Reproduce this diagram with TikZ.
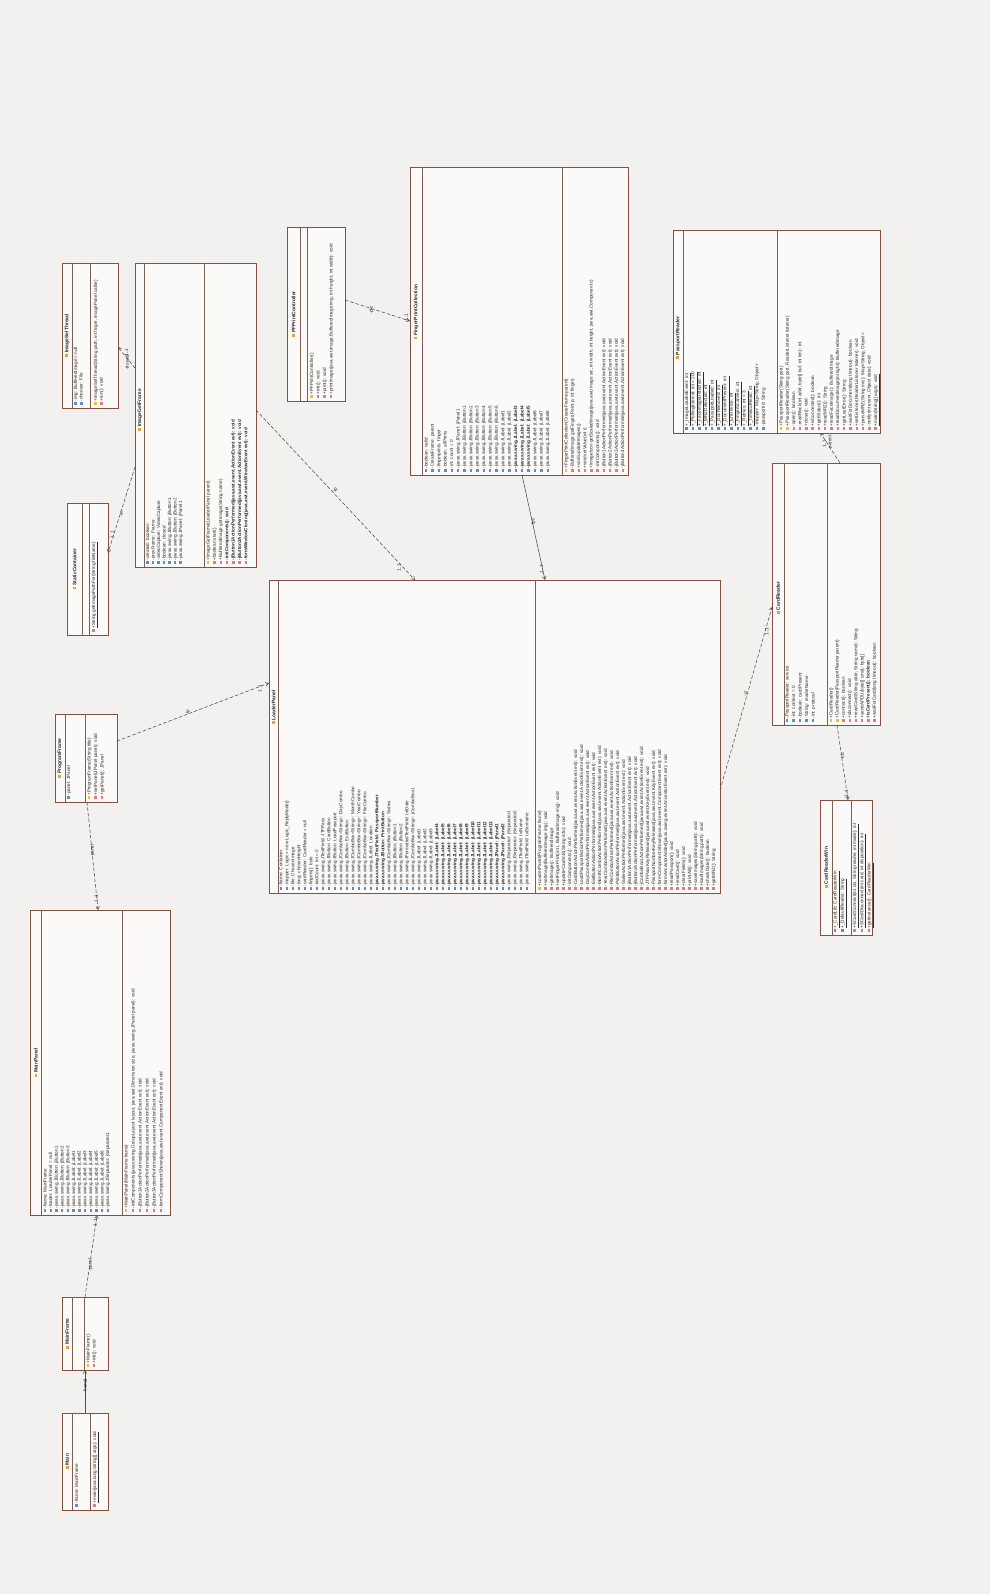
\documentclass[tikz,border=0pt]{standalone}
\usepackage{fontspec}
\setmainfont{Liberation Sans}
\usetikzlibrary{arrows.meta}
\definecolor{bg}{HTML}{F2F1EF}
\definecolor{boxfill}{HTML}{FBFAF8}
\definecolor{bord}{HTML}{84503F}
\definecolor{divc}{HTML}{7D5E55}
\definecolor{txt}{HTML}{2A2A2A}
\definecolor{icA}{HTML}{5B8FC9}
\definecolor{icB}{HTML}{E3A23B}
\definecolor{icM}{HTML}{E07B86}
\definecolor{icC}{HTML}{E6C13E}
\definecolor{conn}{HTML}{4E4E4E}
\newcommand{\ia}{\textcolor{icA}{\rule[0.2pt]{2.4pt}{2.4pt}}\hspace{1pt}}
\newcommand{\im}{\textcolor{icM}{\rule[0.2pt]{2.4pt}{2.4pt}}\hspace{1pt}}
\newcommand{\ic}{\textcolor{icC}{\rule[0.2pt]{2.4pt}{2.4pt}}\hspace{1pt}}
\newcommand{\ih}{\textcolor{icB}{\rule[0.2pt]{2.8pt}{2.8pt}}\hspace{1pt}}
\newcommand{\umlbox}[7]{%
  \node[cls, minimum width={(#4-#2)*1pt}, minimum height={(#5-#3)*1pt}] (#1) at (#2,#3) {};
  \draw[divl] (#6,#3) -- (#6,#5);
  \draw[divl] (#7,#3) -- (#7,#5);
}
\tikzset{
 cls/.style={draw=bord, fill=boxfill, line width=0.9pt, inner sep=0pt, outer sep=0pt, anchor=north west},
 divl/.style={draw=divc, line width=0.6pt},
 hdr/.style={rotate=90, font=\bfseries\fontsize{5}{6}\selectfont, text=txt, inner sep=0pt},
 mem/.style={rotate=90, anchor=north west, align=left, inner sep=0pt, text=txt},
 assoc/.style={draw=conn, line width=0.55pt, -{Straight Barb[length=3pt,width=3.5pt]}},
 dep/.style={assoc, dash pattern=on 3.5pt off 2pt},
 lbl/.style={rotate=90, font=\fontsize{4.6}{5}\selectfont, text=txt, inner sep=0.5pt},
}
\begin{document}
\begin{tikzpicture}[x=1pt,y=-1pt]
\useasboundingbox (0,0) rectangle (990,1594);
\fill[bg] (0,0) rectangle (990,1594);

% ---------------- Main
\umlbox{main}{62}{1413}{108}{1510}{72}{90}
\node[hdr] (mainh) at (67,1461.5) {\ih Main};
\node[mem, font=\fontsize{4.6}{6}\selectfont] (maina) at (74.5,1507) {\ia -frame: MainFrame};
\node[mem, font=\fontsize{4.6}{6}\selectfont] (mainm) at (92.5,1507) {\im \underline{+main(java.lang.String[] args): void}};

% ---------------- MainFrame
\umlbox{mframe}{62}{1297}{108}{1370}{72}{84}
\node[hdr] (mframeh) at (67,1333.5) {\ih MainFrame};
\node[mem, font=\fontsize{4.6}{6}\selectfont] (mframem) at (86,1367) {\ic +MainFrame()\\ \im +init(): void};

% ---------------- MainPanel
\umlbox{mpanel}{30}{910}{170}{1215}{41.5}{122}
\node[hdr] (mpanelh) at (35.8,1062.5) {\ih MainPanel};
\node[mem, font=\fontsize{4.6}{5.7}\selectfont] (mpanela) at (43,1212) {\ia -frame: MainFrame\\ \ia -loader: LoaderPanel = null\\ \ia -javax.swing.JButton: jButton1\\ \ia -javax.swing.JButton: jButton2\\ \ia -javax.swing.JButton: jButton3\\ \ia -javax.swing.JLabel: jLabel1\\ \ia -javax.swing.JLabel: jLabel2\\ \ia -javax.swing.JLabel: jLabel3\\ \ia -javax.swing.JLabel: jLabel4\\ \ia -javax.swing.JLabel: jLabel5\\ \ia -javax.swing.JLabel: jLabel6\\ \ia -javax.swing.JSeparator: jSeparator1};
\node[mem, font=\fontsize{4.6}{7}\selectfont] (mpanelm) at (124,1212) {\ic +MainPanel(MainFrame frame)\\ \im -initComponents(javax.swing.GroupLayout layout, java.awt.Dimension size, javax.swing.JPanel panel): void\\ \im -jButton1ActionPerformed(java.awt.event.ActionEvent evt): void\\ \im -jButton2ActionPerformed(java.awt.event.ActionEvent evt): void\\ \im -jButton3ActionPerformed(java.awt.event.ActionEvent evt): void\\ \im -formComponentShown(java.awt.event.ComponentEvent evt): void};

% ---------------- ProgramFrame
\umlbox{pframe}{55}{714}{117}{802}{65}{85}
\node[hdr] (pframeh) at (60,758) {\ih ProgramFrame};
\node[mem, font=\fontsize{4.6}{6}\selectfont] (pframea) at (66.5,799) {\ia -panel: JPanel};
\node[mem, font=\fontsize{4.6}{6.5}\selectfont] (pframem) at (87,799) {\ic +ProgramFrame(String title)\\ \im +setPanel(JPanel panel): void\\ \im +getPanel(): JPanel};

% ---------------- StaticContainer
\umlbox{scont}{67}{503}{108}{635}{82}{89}
\node[hdr] (sconth) at (74.5,569) {\ih StaticContainer};
\node[mem, font=\fontsize{4.6}{6}\selectfont] (scontm) at (91.5,632) {\im \underline{+String getImagePathFor(String fileName)}};

% ---------------- ImageSelThread
\umlbox{ist}{62}{263}{118}{408}{72}{90}
\node[hdr] (isth) at (67,335.5) {\ih ImageSelThread};
\node[mem, font=\fontsize{4.6}{5.7}\selectfont] (ista) at (73.5,405) {\ia -img: BufferedImage = null\\ \ia -chooser: File};
\node[mem, font=\fontsize{4.6}{5.8}\selectfont] (istm) at (93.5,405) {\ic +ImageSelThread(String path, int finger, ImagePanel caller)\\ \im +run(): void};

% ---------------- ImageGetFrame
\umlbox{igf}{135}{263}{256}{567}{144.5}{204}
\node[hdr] (igfh) at (139.8,410) {\ih ImageGetFrame};
\node[mem, font=\fontsize{4.6}{5.5}\selectfont] (igfa) at (145.5,564) {\ia -created: boolean\\ \ia -prevFrame: Frame\\ \ia -videoCapture: VideoCapture\\ \ia -boolean: closed\\ \ia -javax.swing.JButton: jButton1\\ \ia -javax.swing.JButton: jButton2\\ \ia -javax.swing.JPanel: jPanel1};
\node[mem, font=\fontsize{4.6}{6.3}\selectfont] (igfm) at (206,564) {\ic +ImageGetFrame(LoaderPanel parent)\\ \im +boolean start()\\ \im +BufferedImage getImage(String name)\\ \im \textbf{-initComponents(): void}\\ \im \textbf{-jButton1ActionPerformed(java.awt.event.ActionEvent evt): void}\\ \im \textbf{-jButton2ActionPerformed(java.awt.event.ActionEvent evt): void}\\ \im \textbf{-formWindowClosing(java.awt.event.WindowEvent evt): void}};

% ---------------- PFPrintController
\umlbox{pfc}{287}{227}{345}{401}{300}{307}
\node[hdr] (pfch) at (293.5,314) {\ih PFPrintController};
\node[mem, font=\fontsize{4.6}{6.5}\selectfont] (pfcm) at (309.5,398) {\ic +PFPrintController()\\ \im +init(): void\\ \im +print(): void\\ \im +printImage(java.awt.image.BufferedImage img, int height, int width): void};

% ---------------- FingerPrintCollection
\umlbox{fpcol}{410}{167}{628}{475}{422}{562}
\node[hdr] (fpcolh) at (416,312) {\ih FingerPrintCollection};
\node[mem, font=\fontsize{4.6}{6.4}\selectfont] (fpcola) at (424,472) {\ia -boolean: valid\\ \ia -CreateFrame: parent\\ \ia -fingerprints: finger\\ \ia -boolean: allPrints\\ \ia -int: count = 0\\ \ia -javax.swing.JPanel: jPanel1\\ \ia -javax.swing.JButton: jButton1\\ \ia -javax.swing.JButton: jButton2\\ \ia -javax.swing.JButton: jButton3\\ \ia -javax.swing.JButton: jButton4\\ \ia -javax.swing.JButton: jButton5\\ \ia -javax.swing.JButton: jButton6\\ \ia -javax.swing.JLabel: jLabel1\\ \ia -javax.swing.JLabel: jLabel2\\ \ia \textbf{-javax.swing.JLabel: jLabel3}\\ \ia \textbf{-javax.swing.JLabel: jLabel4}\\ \ia \textbf{-javax.swing.JLabel: jLabel5}\\ \ia -javax.swing.JLabel: jLabel6\\ \ia -javax.swing.JLabel: jLabel7\\ \ia -javax.swing.JLabel: jLabel8};
\node[mem, font=\fontsize{4.6}{6.3}\selectfont] (fpcolm) at (564,472) {\ic +FingerPrintCollection(CreateFrame parent)\\ \im -BufferedImage getFinger(Point p, int finger)\\ \im +void updateImages()\\ \im +void setValue(int i)\\ \im +ImageIcon getScaledImage(java.awt.Image src, int width, int height, java.awt.Component c)\\ \im -initComponents(): void\\ \im -jButton1ActionPerformed(java.awt.event.ActionEvent evt): void\\ \im -jButton2ActionPerformed(java.awt.event.ActionEvent evt): void\\ \im -jButton3ActionPerformed(java.awt.event.ActionEvent evt): void\\ \im -jButton4ActionPerformed(java.awt.event.ActionEvent evt): void};

% ---------------- LoaderPanel
\umlbox{lp}{269}{580}{720}{893}{278}{535.5}
\node[hdr] (lph) at (273.5,707) {\ih LoaderPanel};
\node[mem, font=\fontsize{4.6}{6}\selectfont] (lpa) at (278.8,890) {\ia -frame: Container\\ \ia -mapper: Logic = new Logic\_ReplyMode()\\ \ia -file: ChosenImage\\ \ia -long: chosenHeight\\ \ia -cardReader: CardReader = null\\ \ia -fingers[]: byte\\ \ia -trialCount: int = 0\\ \ia -javax.swing.JTextField: JTFPass\\ \ia -javax.swing.JButton: CardButton\\ \ia -javax.swing.JButton: LoadPassport\\ \ia -javax.swing.JComboBox<String>: DayCombo\\ \ia -javax.swing.JButton: ExitButton\\ \ia -javax.swing.JComboBox<String>: MonthCombo\\ \ia -javax.swing.JComboBox<String>: YearCombo\\ \ia -javax.swing.JComboBox<String>: FileCombo\\ \ia -javax.swing.JLabel: Location\\ \ia \textbf{-javax.swing.JTextField: PassportNumber}\\ \ia \textbf{-javax.swing.JButton: PrintButton}\\ \ia -javax.swing.JComboBox<String>: Sixties\\ \ia -javax.swing.JButton: jButton1\\ \ia -javax.swing.JButton: jButton2\\ \ia -javax.swing.JFormattedTextField: txtDate\\ \ia -javax.swing.JComboBox<String>: jComboBox1\\ \ia -javax.swing.JLabel: jLabel1\\ \ia -javax.swing.JLabel: jLabel2\\ \ia -javax.swing.JLabel: jLabel3\\ \ia \textbf{-javax.swing.JLabel: jLabel4}\\ \ia \textbf{-javax.swing.JLabel: jLabel5}\\ \ia \textbf{-javax.swing.JLabel: jLabel6}\\ \ia \textbf{-javax.swing.JLabel: jLabel7}\\ \ia \textbf{-javax.swing.JLabel: jLabel8}\\ \ia \textbf{-javax.swing.JLabel: jLabel9}\\ \ia \textbf{-javax.swing.JLabel: jLabel10}\\ \ia \textbf{-javax.swing.JLabel: jLabel11}\\ \ia \textbf{-javax.swing.JLabel: jLabel12}\\ \ia \textbf{-javax.swing.JLabel: jLabel13}\\ \ia \textbf{-javax.swing.JPanel: jPanel1}\\ \ia \textbf{-javax.swing.JPanel: jPanel2}\\ \ia -javax.swing.JSeparator: jSeparator1\\ \ia -javax.swing.JSeparator: jSeparator2\\ \ia -javax.swing.JTextField: txtName\\ \ia -javax.swing.JTextField: txtSurname};
\node[mem, font=\fontsize{4.6}{6}\selectfont] (lpm) at (537.5,890) {\ic +LoaderPanel(ProgramFrame frame)\\ \im +setImage(BufferedImage img): void\\ \im +getImage(): BufferedImage\\ \im +setFingerPrint(int i, BufferedImage img): void\\ \im +updateCardInfo(String info): void\\ \im -initComponents(): void\\ \im -CardButtonActionPerformed(java.awt.event.ActionEvent evt): void\\ \im -LoadPassportActionPerformed(java.awt.event.ActionEvent evt): void\\ \im -DayComboActionPerformed(java.awt.event.ActionEvent evt): void\\ \im -ExitButtonActionPerformed(java.awt.event.ActionEvent evt): void\\ \im -MonthComboActionPerformed(java.awt.event.ActionEvent evt): void\\ \im -YearComboActionPerformed(java.awt.event.ActionEvent evt): void\\ \im -FileComboActionPerformed(java.awt.event.ActionEvent evt): void\\ \im -PrintButtonActionPerformed(java.awt.event.ActionEvent evt): void\\ \im -SixtiesActionPerformed(java.awt.event.ActionEvent evt): void\\ \im -jButton1ActionPerformed(java.awt.event.ActionEvent evt): void\\ \im -jButton2ActionPerformed(java.awt.event.ActionEvent evt): void\\ \im -jComboBox1ActionPerformed(java.awt.event.ActionEvent evt): void\\ \im -JTFPassKeyReleased(java.awt.event.KeyEvent evt): void\\ \im -PassportNumberKeyReleased(java.awt.event.KeyEvent evt): void\\ \im -formComponentShown(java.awt.event.ComponentEvent evt): void\\ \im -formAncestorAdded(javax.swing.event.AncestorEvent evt): void\\ \im +readPassport(): void\\ \im +readCard(): void\\ \im +clearFields(): void\\ \im +printAll(): void\\ \im +saveImages(String path): void\\ \im +loadImages(String path): void\\ \im +checkDate(): boolean\\ \im +getMRZ(): String};

% ---------------- PassportReader
\umlbox{pr}{673}{230}{880}{433}{683}{777}
\node[hdr] (prh) at (678,338) {\ih PassportReader};
\node[mem, font=\fontsize{4.6}{6.4}\selectfont] (pra) at (684.5,430) {\ia \underline{+\_ImageLoadedEvent: int}\\ \ia \underline{+\_PollingInterval: int = 200}\\ \ia \underline{+\_FaceImageDetected: int}\\ \ia \underline{+\_MRZDetected: int}\\ \ia \underline{+\_PassportLoaded: int}\\ \ia \underline{+\_DocRemoved: int}\\ \ia \underline{+\_DocumentPresent: int}\\ \ia \underline{+\_ErrDevice: int}\\ \ia \underline{+\_FingerScanned: int}\\ \ia \underline{+\_Retries: int = 3}\\ \ia \underline{+\_TimeoutRead: int}\\ \ia -mapper: Map<String, Object>\\ \ia -passportId: String};
\node[mem, font=\fontsize{4.6}{6.3}\selectfont] (prm) at (779,430) {\ic +PassportReader(String port)\\ \ic +PassportReader(String port, ReaderListener listener)\\ \im -open(): boolean\\ \im -readBlock(int addr, byte[] buf, int len): int\\ \im +close(): void\\ \im +isConnected(): boolean\\ \im +getStatus(): int\\ \im +readMRZ(): String\\ \im +readFaceImage(): BufferedImage\\ \im +readDocumentImage(int light): BufferedImage\\ \im +getLastError(): String\\ \im +waitForDocument(long timeout): boolean\\ \im +setListener(ReaderListener listener): void\\ \im +parseMRZ(String mrz): Map<String, Object>\\ \im -notify(int event, Object data): void\\ \im \underline{+main(String[] args): void}};

% ---------------- CardReader
\umlbox{cr}{772}{463}{880}{725}{784}{827}
\node[hdr] (crh) at (778,598) {\ih CardReader};
\node[mem, font=\fontsize{4.6}{6.5}\selectfont] (cra) at (785,722) {\ia -PassportReader: service\\ \ia -int: context = 0\\ \ia -boolean: cardPresent\\ \ia -String: readerName\\ \ia -int: protocol};
\node[mem, font=\fontsize{4.6}{6.2}\selectfont] (crm) at (829,722) {\ic +CardReader()\\ \ic +CardReader(PassportReader parent)\\ \im +connect(): boolean\\ \im +disconnect(): void\\ \im +readCard(String date, String name): String\\ \im +sendAPDU(byte[] cmd): byte[]\\ \im \textbf{+isCardPresent(): boolean}\\ \im +waitForCard(long timeout): boolean};

% ---------------- CardReaderWin
\umlbox{crw}{820}{800}{872}{935}{832}{851}
\node[hdr] (crwh) at (826,867.5) {\ih CardReaderWin};
\node[mem, font=\fontsize{4.6}{5.5}\selectfont] (crwa) at (833,932) {\ia \underline{+\_CardLib: CardReaderWin}\\ \ia \underline{+\_DefaultReader: String}};
\node[mem, font=\fontsize{4.6}{6}\selectfont] (crwm) at (852.5,932) {\im \underline{+SCardConnect(int ctx, String reader, int mode): int}\\ \im \underline{+SCardDisconnect(int card, int disposition): int}\\ \im \underline{+getInstance(): CardReaderWin}};

% ---------------- connectors
\draw[assoc] (main.north) -- (mframe.south)
  node[lbl, pos=0.5, xshift=5pt] (la1) {-frame}
  node[lbl, pos=0.85, xshift=-4pt] (lm1) {1};
\draw[dep] (mframe.north) -- ([xshift=-3pt]mpanel.south)
  node[lbl, pos=0.45, xshift=-5pt] (la2) {-panel}
  node[lbl, pos=0.85, xshift=5pt] (lm2) {1..1};
\draw[dep] ([xshift=1pt]pframe.south) -- ([xshift=-2pt]mpanel.north)
  node[lbl, pos=0.5, xshift=5pt] (la3) {-panel}
  node[lbl, pos=0.85, xshift=-5pt] (lm3) {1..1};
\draw[dep] ([yshift=17pt]pframe.east) -- ([yshift=53.5pt]lp.west)
  node[lbl, pos=0.5, yshift=5pt] (la4) {-lp}
  node[lbl, pos=0.9, yshift=-6pt] (lm4) {1..1};
\draw[dep] ([yshift=-52pt]igf.west) -- ([yshift=16pt]scont.east)
  node[lbl, pos=0.5, xshift=-4pt] (la5) {-sc}
  node[lbl, pos=0.85, xshift=5pt] (lm5) {1..1};
\draw[dep] ([yshift=47pt]igf.west) -- ([yshift=-11.5pt]ist.east)
  node[lbl, pos=0.45, xshift=-4pt] (la6) {-thread}
  node[lbl, pos=0.5, xshift=5pt] (lm6) {1..1};
\draw[dep] ([yshift=5pt]igf.east) -- ([xshift=-79.5pt]lp.north)
  node[lbl, pos=0.5, xshift=5pt] (la7) {-lp}
  node[lbl, pos=0.9, xshift=-5pt] (lm7) {1..1};
\draw[dep] ([yshift=14pt]pfc.east) -- (fpcol.west)
  node[lbl, pos=0.5, yshift=6pt] (la8) {-pfc}
  node[lbl, pos=0.85, yshift=-6pt] (lm8) {1..1};
\draw[assoc] ([xshift=3pt]fpcol.south) -- ([xshift=50.5pt]lp.north)
  node[lbl, pos=0.5, xshift=5pt] (la9) {-fpc}
  node[lbl, pos=0.85, xshift=-5pt] (lm9) {1..1};
\draw[dep] ([yshift=-53.5pt]lp.east) -- ([yshift=-13pt]cr.west)
  node[lbl, pos=0.5, xshift=5pt] (la10) {-cr}
  node[lbl, pos=0.9, xshift=-6pt] (lm10) {1..1};
\draw[dep] ([xshift=14pt]cr.north) -- ([xshift=44pt]pr.south)
  node[lbl, pos=0.5, xshift=6pt] (la11) {parent}
  node[lbl, pos=0.8, xshift=-5pt] (lm11) {1..1};
\draw[dep] ([xshift=11pt]cr.south) -- ([xshift=2pt]crw.north)
  node[lbl, pos=0.5, xshift=6pt] (la12) {-lib}
  node[lbl, pos=0.85, xshift=-5pt] (lm12) {1..1};
\end{tikzpicture}
\end{document}
